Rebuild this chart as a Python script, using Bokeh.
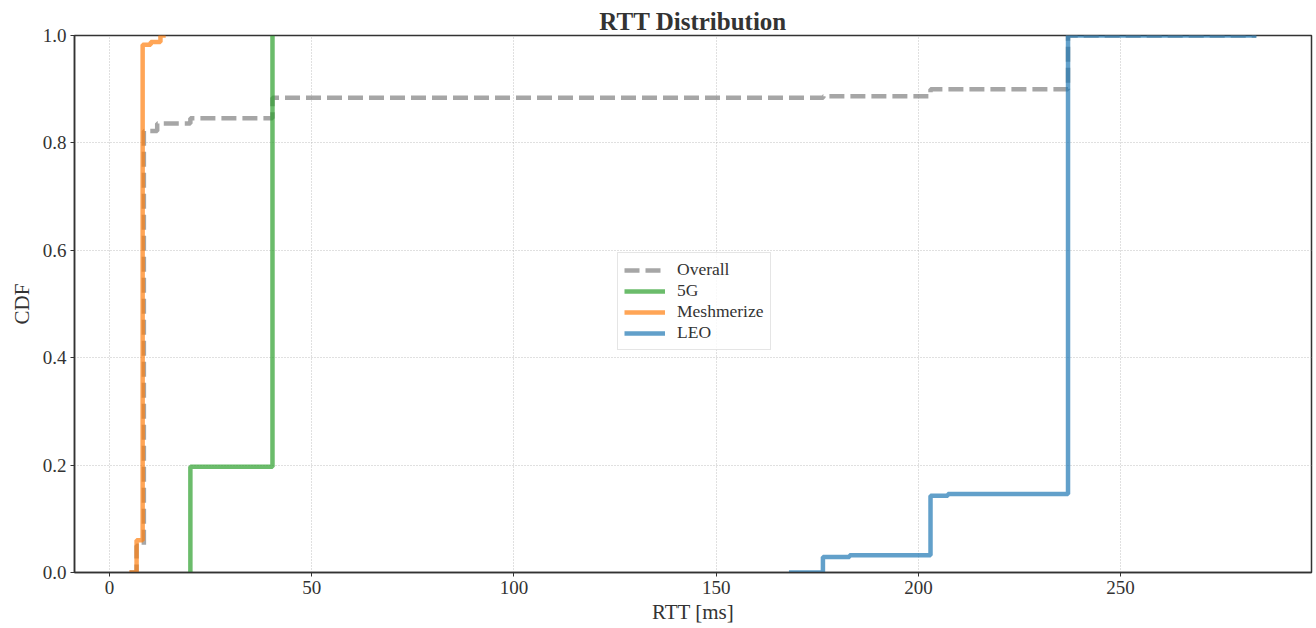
import numpy as np
from bokeh.plotting import figure
from bokeh.models import Range1d, Legend, LegendItem, FixedTicker
from bokeh.embed import file_html
from bokeh.resources import INLINE

# CDF step data (x = RTT in ms, y = CDF after that step)
overall_x = [5.0, 6.7, 8.5, 11.8, 20.0, 40.3, 176.5, 203.0, 237.0, 283.5]
overall_y = [0.0, 0.05, 0.822, 0.836, 0.846, 0.884, 0.887, 0.900, 1.0, 1.0]

g5_x = [20.0, 20.0, 40.3]
g5_y = [0.0, 0.197, 1.0]

mesh_x = [4.9, 6.7, 8.2, 10.2, 12.6, 13.9]
mesh_y = [0.0, 0.06, 0.983, 0.988, 1.0, 1.0]

leo_x = [168.0, 176.4, 183.0, 203.0, 207.3, 237.0, 283.6]
leo_y = [0.0, 0.029, 0.032, 0.143, 0.146, 1.0, 1.0]

x_ticks = [0, 50, 100, 150, 200, 250]
y_ticks = [0.0, 0.2, 0.4, 0.6, 0.8, 1.0]

FONT = "Liberation Serif"
TXT = "#333333"

p = figure(width=1316, height=628, output_backend="svg", toolbar_location=None,
           x_range=Range1d(-8.65, 297.2), y_range=Range1d(0, 1),
           min_border_left=74, min_border_right=5, min_border_top=35, min_border_bottom=56,
           title="RTT Distribution")

p.title.align = "center"
p.title.text_font = FONT
p.title.text_font_size = "25px"
p.title.text_font_style = "bold"
p.title.text_color = TXT
p.title.offset = 0
p.title.standoff = 1

LW = 4.5
r_over = p.step(overall_x, overall_y, mode="after", line_color="#808080", line_alpha=0.7,
                line_width=LW, line_dash="15 6")
r_5g = p.step(g5_x, g5_y, mode="after", line_color="#2ca02c", line_alpha=0.7, line_width=LW)
r_mesh = p.step(mesh_x, mesh_y, mode="after", line_color="#ff7f0e", line_alpha=0.7, line_width=LW)
r_leo = p.step(leo_x, leo_y, mode="after", line_color="#1f77b4", line_alpha=0.7, line_width=LW)

legend = Legend(items=[LegendItem(label="Overall", renderers=[r_over]),
                       LegendItem(label="5G", renderers=[r_5g]),
                       LegendItem(label="Meshmerize", renderers=[r_mesh]),
                       LegendItem(label="LEO", renderers=[r_leo])],
                location=(543, 222))
legend.label_text_font = FONT
legend.label_text_font_size = "17.5px"
legend.label_text_color = TXT
legend.label_height = 20
legend.glyph_height = 20
legend.glyph_width = 41
legend.label_standoff = 12
legend.spacing = 0
legend.padding = 6
legend.margin = 0
legend.border_line_color = "#cccccc"
legend.border_line_width = 1
legend.background_fill_alpha = 0.8
p.add_layout(legend)

p.xaxis.ticker = FixedTicker(ticks=x_ticks)
p.yaxis.ticker = FixedTicker(ticks=y_ticks)
p.yaxis.major_label_overrides = {t: f"{t:.1f}" for t in y_ticks}

for ax in (p.xaxis, p.yaxis):
    ax.major_label_text_font = FONT
    ax.major_label_text_font_size = "19px"
    ax.major_label_text_color = TXT
    ax.axis_label_text_font = FONT
    ax.axis_label_text_font_size = "21px"
    ax.axis_label_text_font_style = "normal"
    ax.axis_label_text_color = TXT
    ax.minor_tick_line_color = None
    ax.major_tick_out = 4
    ax.major_tick_in = 0
    ax.major_tick_line_color = "#333333"
    ax.axis_line_color = "#333333"
    ax.axis_line_width = 1.5

p.xaxis.axis_label = "RTT [ms]"
p.yaxis.axis_label = "CDF"
p.xaxis.major_label_standoff = 4
p.xaxis.axis_label_standoff = 3
p.yaxis.major_label_standoff = 4
p.yaxis.axis_label_standoff = 6

p.xgrid.grid_line_color = "#b0b0b0"
p.ygrid.grid_line_color = "#b0b0b0"
p.xgrid.grid_line_dash = "1 2"
p.ygrid.grid_line_dash = "1 2"
p.xgrid.grid_line_width = 0.8
p.ygrid.grid_line_width = 0.8

p.outline_line_color = "#333333"
p.outline_line_width = 1.5
p.outline_line_alpha = 1
p.background_fill_color = "white"
p.border_fill_color = "white"

open("out.html", "w").write(file_html(p, INLINE))
